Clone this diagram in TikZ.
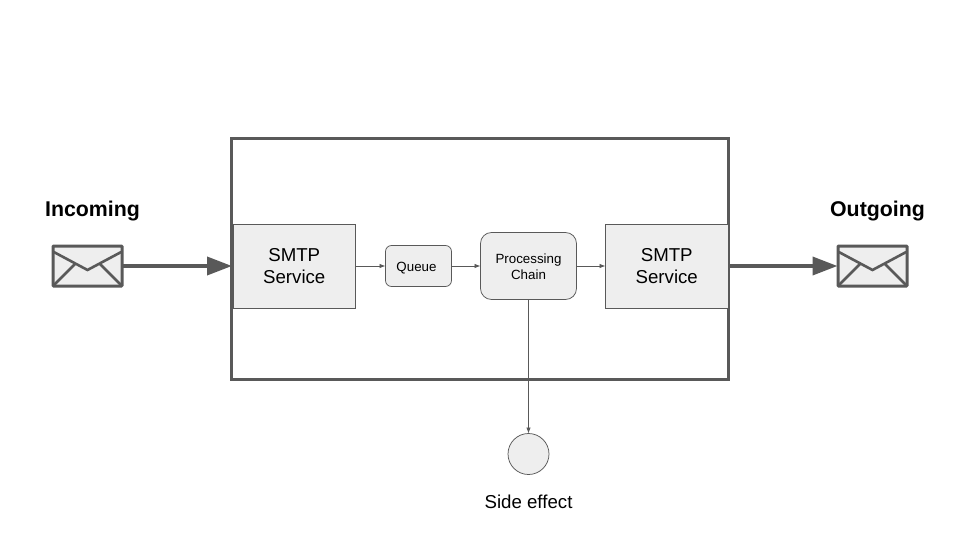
\documentclass[tikz,border=0pt]{standalone}
\usepackage{fontspec}
\setmainfont{Liberation Sans}
\usetikzlibrary{arrows.meta,calc}
\definecolor{ln}{HTML}{595959}
\definecolor{fl}{HTML}{EEEEEE}
\tikzset{
  x=1pt,y=-1pt,
  every node/.style={outer sep=0pt},
  sq/.style={draw=ln,line width=0.75pt,fill=fl,inner sep=0,align=center,font=\fontsize{18.67}{22.5}\selectfont},
  rnd/.style={sq,rounded corners=#1},
  envbox/.style={draw=ln,line width=3pt,fill=fl,inner sep=0,rounded corners=0.8pt,minimum width=69pt,minimum height=40pt},
  flap/.style={draw=ln,line width=2.6pt,line join=miter},
  thin link/.style={draw=ln,line width=0.75pt,-{Latex[length=6pt,width=4.5pt]}},
  thick link/.style={draw=ln,line width=3.75pt,-{Triangle[length=25pt,width=18pt]}},
  title/.style={font=\fontsize{21.33}{24}\selectfont\bfseries,text=black,inner sep=0},
  lab/.style={font=\fontsize{18.67}{24}\selectfont,text=black,inner sep=0},
}
\begin{document}
\begin{tikzpicture}
\useasboundingbox (0,0) rectangle (960,540);
\node[draw=ln,line width=3pt,minimum width=497pt,minimum height=240.5pt,inner sep=0,anchor=north west] (main) at (231.5,139) {};
\node[sq,minimum width=122.5pt,minimum height=84pt,anchor=north west] (svcin) at (233,224) {SMTP\\Service};
\node[rnd=6pt,minimum width=66pt,minimum height=41pt,anchor=north west,font=\fontsize{13.33}{16}\selectfont] (queue) at (385.5,245.5) {\raisebox{-2pt}[\height][\depth]{Queue}\hspace*{4pt}};
\node[rnd=11pt,minimum width=96pt,minimum height=67pt,anchor=north west,font=\fontsize{13.33}{16}\selectfont] (chain) at (480.5,232.5) {\raisebox{-1pt}[\height][\depth]{Processing}\\\raisebox{-1pt}[\height][\depth]{Chain}};
\node[sq,minimum width=122.5pt,minimum height=84pt,anchor=north west] (svcout) at (605.5,224) {SMTP\\Service};
\node[sq,circle,minimum size=41pt] (side) at (528.5,454) {};
\node[envbox] (envin) at (87.5,266) {};
\draw[flap] ($(envin.north west)+(0.8,6)$) -- ($(envin.north)+(0,24)$) -- ($(envin.north east)+(-0.8,6)$);
\draw[flap] ($(envin.south west)+(1,-1)$) -- ($(envin.south west)+(22,-22)$);
\draw[flap] ($(envin.south east)+(-1,-1)$) -- ($(envin.south east)+(-22,-22)$);
\node[envbox] (envout) at (872.5,266) {};
\draw[flap] ($(envout.north west)+(0.8,6)$) -- ($(envout.north)+(0,24)$) -- ($(envout.north east)+(-0.8,6)$);
\draw[flap] ($(envout.south west)+(1,-1)$) -- ($(envout.south west)+(22,-22)$);
\draw[flap] ($(envout.south east)+(-1,-1)$) -- ($(envout.south east)+(-22,-22)$);
\node[title] (tin) at (92.5,211.5) {Incoming};
\node[title] (tout) at (877.5,211.5) {Outgoing};
\node[lab] (sidelab) at (528.5,502) {Side effect};
\draw[thick link,shorten >=1pt] (envin.east) -- (svcin.west);
\draw[thick link,shorten >=0.5pt] (svcout.east) -- (envout.west);
\draw[thin link] (svcin.east) -- (queue.west);
\draw[thin link] (queue.east) -- (chain.west);
\draw[thin link] (chain.east) -- (svcout.west);
\draw[thin link] (chain.south) -- (side.north);
\end{tikzpicture}
\end{document}
